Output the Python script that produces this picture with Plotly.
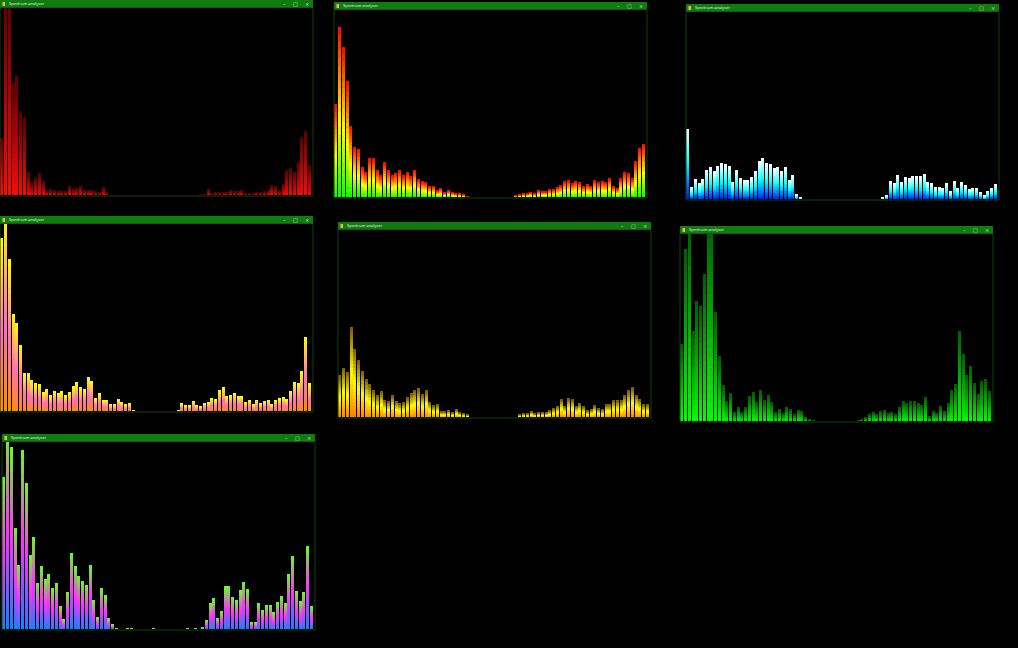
import plotly.graph_objects as go

W, H = 1018, 648
N_BANDS = 83
bands = list(range(N_BANDS))
title_text = "Spectrum analyser"

# band levels for each analyser window (top of the plot area = 187)
levels_red = [57, 200, 200, 112, 119, 84, 78, 23, 13, 17, 22, 14, 5, 6, 5, 4, 4, 4, 9, 6,
              7, 9, 5, 5, 5, 4, 3, 8, 3, 0.5, 0.5, 0.5, 0.5, 0, 0, 0, 0, 0, 0, 0,
              0, 0, 0, 0, 0, 0, 0, 0, 0.5, 0.5, 0.5, 0.5, 0.5, 0.7, 1, 6, 2, 3, 3, 3,
              3, 5, 4, 4, 5, 2, 2, 2, 3, 3, 4, 5, 10, 9, 5, 11, 25, 27, 23, 33,
              58, 64, 30]
levels_rgy = [93, 170, 150, 116, 71, 50, 48, 30, 25, 39, 39, 27, 22, 35, 27, 22, 24, 27, 22, 25,
              21, 27, 18, 16, 15, 11, 11, 7, 9, 5, 7, 5, 4, 4, 3, 0.7, 0, 0, 0, 0,
              0, 0, 0, 0, 0, 0, 0, 0, 2, 3, 4, 4, 5, 4, 7, 6, 6, 8, 8, 10,
              12, 16, 17, 14, 16, 15, 11, 13, 11, 17, 15, 16, 15, 19, 11, 9, 19, 25, 24, 19,
              36, 49, 53]
levels_bcw = [70, 12, 20, 16, 20, 29, 32, 28, 33, 36, 35, 33, 17, 29, 21, 19, 19, 22, 28, 38,
              41, 36, 35, 31, 32, 28, 32, 19, 24, 5, 2, 0, 0, 0, 0, 0, 0, 0, 0, 0,
              0, 0, 0, 0, 0, 0, 0, 0, 0, 0, 0, 0, 2, 4, 18, 16, 24, 17, 22, 21,
              23, 23, 23, 25, 17, 16, 12, 12, 11, 16, 8, 18, 11, 17, 14, 10, 11, 11, 7, 4,
              8, 11, 15]
levels_opy = [173, 200, 152, 97, 88, 66, 38, 38, 31, 28, 27, 19, 22, 16, 20, 18, 20, 16, 19, 25,
              29, 24, 22, 34, 30, 13, 18, 11, 11, 7, 7, 12, 9, 7, 8, 1, 0, 0, 0, 0,
              0, 0, 0, 0, 0, 0, 0, 1, 8, 6, 6, 10, 6, 5, 8, 9, 13, 12, 21, 24,
              15, 16, 18, 15, 15, 9, 11, 7, 11, 8, 10, 11, 7, 11, 13, 14, 12, 20, 29, 28,
              40, 74, 28]
levels_oya = [42, 49, 45, 90, 68, 57, 46, 38, 33, 27, 22, 26, 17, 16, 22, 16, 14, 15, 20, 24,
              27, 29, 23, 27, 15, 12, 13, 6, 6, 7, 5, 8, 5, 4, 3, 0, 0, 0, 0, 0,
              0, 0, 0, 0, 0, 0, 0, 0, 3, 4, 4, 6, 4, 5, 5, 5, 7, 9, 11, 18,
              11, 19, 18, 11, 14, 11, 7, 8, 12, 9, 8, 13, 13, 17, 17, 17, 22, 27, 30, 22,
              18, 13, 13]
levels_green = [77, 172, 200, 90, 120, 115, 147, 200, 200, 109, 65, 36, 20, 28, 9, 14, 9, 14, 25, 29,
                19, 31, 21, 26, 19, 9, 12, 8, 14, 12, 7, 11, 10, 4, 2, 1, 0, 0, 0, 0,
                0, 0, 0, 0, 0, 0, 0, 1, 2, 4, 7, 9, 7, 10, 11, 8, 9, 7, 14, 20,
                18, 20, 20, 18, 16, 24, 5, 10, 8, 15, 10, 18, 31, 37, 90, 67, 46, 55, 38, 27,
                40, 42, 30]
levels_bmg = [152, 200, 182, 101, 64, 179, 146, 74, 92, 46, 63, 50, 55, 41, 46, 23, 10, 37, 76, 63,
              53, 48, 44, 64, 29, 12, 41, 34, 11, 5, 0.6, 0.4, 0.4, 0.6, 0.6, 0.3, 0.3, 0.4, 0.3, 0.4,
              0.6, 0.4, 0.3, 0.3, 0.4, 0.3, 0.3, 0.4, 0.3, 0.6, 0.4, 0.6, 0.4, 2, 9, 26, 31, 11, 18, 43,
              43, 32, 29, 39, 47, 40, 7, 7, 26, 19, 24, 24, 17, 27, 33, 26, 55, 73, 38, 28,
              37, 83, 23]

# window placement (screen px): levels, gradient bottom->top, left, right, titlebar top
windows = [
    (levels_red, [(0, '#ff0808'), (1, '#5a0000')], 0, 313, 0),
    (levels_rgy, [(0, '#00ff00'), (0.45, '#ffff00'), (1, '#ff0000')], 334, 647, 2),
    (levels_bcw, [(0, '#0010ff'), (0.5, '#00ffff'), (1, '#ffffff')], 686, 999, 4),
    (levels_opy, [(0, '#ff8c00'), (0.45, '#ff70b8'), (1, '#ffff00')], 0, 313, 216),
    (levels_oya, [(0, '#ff8000'), (0.5, '#ffff00'), (1, '#7a5800')], 338, 651, 222),
    (levels_green, [(0, '#00ff00'), (1, '#005c00')], 680, 993, 226),
    (levels_bmg, [(0, '#1880ff'), (0.5, '#ff30ff'), (1, '#66ff22')], 2, 315, 434),
]

TITLE_H = 7.5
PLOT_H = 187.5
NSEG = 22


def hex_rgb(c):
    c = c.lstrip('#')
    return [int(c[i:i + 2], 16) for i in (0, 2, 4)]


def blend(stops, t):
    for (p0, c0), (p1, c1) in zip(stops, stops[1:]):
        if t <= p1:
            f = (t - p0) / (p1 - p0)
            a, b = hex_rgb(c0), hex_rgb(c1)
            r = [round(a[i] + (b[i] - a[i]) * f) for i in range(3)]
            return 'rgb(%d,%d,%d)' % tuple(r)
    return stops[-1][1]


def px_x(x):
    return x / W


def px_y(y):
    return 1 - y / H


fig = go.Figure()
shapes = []
annotations = []

for n, (levels, stops, left, right, top) in enumerate(windows):
    ax = '' if n == 0 else str(n + 1)
    # bars: each band drawn as NSEG stacked slices to get the vertical gradient
    for k in range(NSEG):
        fig.add_trace(go.Bar(
            x=bands, y=[v / NSEG for v in levels],
            marker=dict(color=blend(stops, (k + 0.5) / NSEG), line=dict(width=0)),
            xaxis='x' + ax, yaxis='y' + ax, hoverinfo='skip'))

    y0 = top + TITLE_H
    y1 = y0 + PLOT_H
    fig.layout['xaxis' + ax] = dict(domain=[px_x(left), px_x(right - 1.7)],
                                    range=[-0.5, N_BANDS - 0.5], visible=False,
                                    anchor='y' + ax, fixedrange=True)
    fig.layout['yaxis' + ax] = dict(domain=[px_y(y1), px_y(y0)], range=[0, PLOT_H],
                                    visible=False, anchor='x' + ax, fixedrange=True)

    # window frame
    shapes.append(dict(type='rect', xref='paper', yref='paper', layer='above',
                       x0=px_x(left), x1=px_x(right), y0=px_y(y1 + 1), y1=px_y(y0),
                       line=dict(color='#0c420c', width=1), fillcolor='rgba(0,0,0,0)'))
    # title bar
    shapes.append(dict(type='rect', xref='paper', yref='paper', layer='above',
                       x0=px_x(left), x1=px_x(right), y0=px_y(y0), y1=px_y(top),
                       line=dict(width=0), fillcolor='#107c10'))
    # little app icon
    shapes.append(dict(type='rect', xref='paper', yref='paper', layer='above',
                       x0=px_x(left + 2.5), x1=px_x(left + 5), y0=px_y(top + 6), y1=px_y(top + 2),
                       line=dict(width=0), fillcolor='#e8b84a'))
    annotations.append(dict(text=title_text, xref='paper', yref='paper',
                            x=px_x(left + 6.5), y=px_y(top + TITLE_H / 2),
                            xanchor='left', yanchor='middle', showarrow=False,
                            font=dict(size=4, color='#e8f4e8', family='Noto Sans')))
    for off, glyph in ((29, '\u2013'), (18, '\u25a1'), (6, '\u00d7')):
        annotations.append(dict(text=glyph, xref='paper', yref='paper',
                                x=px_x(right - off), y=px_y(top + TITLE_H / 2),
                                xanchor='center', yanchor='middle', showarrow=False,
                                font=dict(size=5, color='#d8ecd8', family='DejaVu Sans')))

fig.update_layout(
    width=W, height=H,
    margin=dict(l=0, r=0, t=0, b=0),
    paper_bgcolor='#000000', plot_bgcolor='#000000',
    barmode='stack', bargap=0.2,
    showlegend=False,
    shapes=shapes, annotations=annotations,
)

# page has a default body margin; drop it so the figure fills the window
fig.write_html("out.html", config={'displayModeBar': False},
               post_script="document.body.style.margin='0';document.body.style.background='#000';")
